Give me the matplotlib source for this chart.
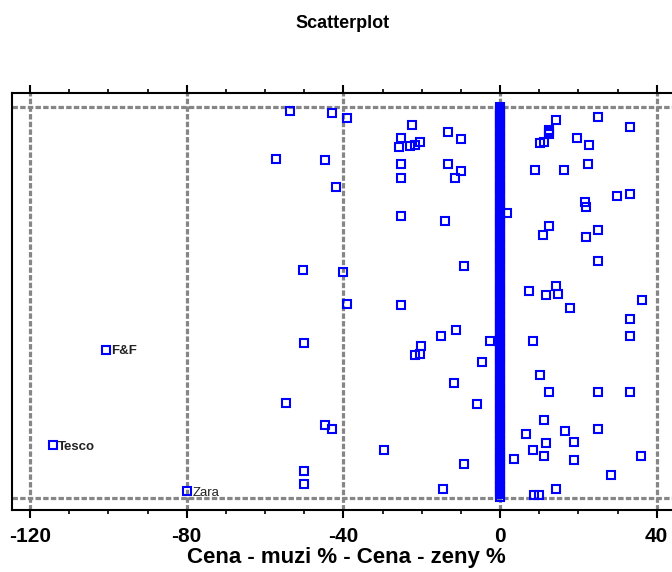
import matplotlib
matplotlib.use('Agg')
import matplotlib.pyplot as plt
from matplotlib.ticker import MultipleLocator

plt.rcParams['font.family'] = ['Liberation Sans', 'DejaVu Sans']
plt.rcParams['axes.unicode_minus'] = False

# rozdil ceny (muzi - zeny) v %, y = poradi polozky
neg_x = [-53.6, -42.8, -39.2, -57.2, -44.6, -41.9, -22.5, -25.2, -25.8, -23.1, -21.6, -20.4,
         -13.2, -10.0, -25.2, -25.2, -13.2, -10.0, -11.4, -25.2, -14.0, -50.4, -40.1, -9.1,
         -39.2, -25.2, -50.1, -15.1, -11.3, -2.5, -20.3, -21.7, -20.5, -4.5, -11.8, -6.0,
         -54.6, -44.6, -42.9, -29.7, -9.1, -50.1, -50.1, -14.6]
neg_y = [98.9, 98.3, 97.0, 86.6, 86.3, 79.4, 95.2, 92.0, 89.8, 89.9, 90.2, 91.0,
         93.4, 91.7, 85.3, 81.8, 85.3, 83.6, 81.7, 72.1, 70.8, 58.3, 57.6, 59.2,
         49.5, 49.2, 39.6, 41.4, 43.0, 40.2, 38.7, 36.6, 36.8, 34.8, 29.3, 24.0,
         24.3, 18.6, 17.6, 12.3, 8.6, 6.8, 3.5, 2.3]

pos_x = [14.4, 25.1, 33.2, 12.5, 12.5, 12.5, 10.2, 11.1, 19.7, 22.7, 8.9, 16.2, 22.4, 1.8,
         21.6, 21.9, 29.9, 33.2, 12.5, 11.0, 21.9, 25.1, 25.1, 7.4, 11.7, 14.4, 14.7, 36.2,
         17.9, 33.2, 33.2, 8.3, 10.1, 12.5, 25.1, 33.2, 11.1, 6.6, 16.5, 25.1, 11.7, 18.8,
         8.3, 11.1, 3.5, 18.8, 35.9, 28.2, 14.4, 8.7, 10.0]
pos_y = [96.5, 97.4, 94.7, 94.0, 93.4, 92.9, 90.8, 91.0, 92.0, 90.1, 83.9, 83.9, 85.3, 72.7,
         75.7, 74.4, 77.2, 77.6, 69.5, 67.3, 66.7, 68.5, 60.5, 52.9, 51.9, 54.1, 52.2, 50.5,
         48.6, 45.6, 41.4, 40.2, 31.5, 27.0, 27.0, 27.0, 19.8, 16.2, 17.1, 17.6, 14.1, 14.3,
         12.3, 10.7, 9.9, 9.6, 10.7, 5.8, 2.3, 0.6, 0.8]

# polozky se stejnou cenou (rozdil 0)
zero_y = [0.3, 0.9, 1.4, 2.0, 2.7, 3.2, 3.8, 4.4, 4.9, 5.6,
          6.1, 6.7, 7.3, 7.8, 8.5, 9.0, 9.6, 10.2, 10.7, 11.4,
          11.9, 12.5, 13.1, 13.6, 14.3, 14.8, 15.4, 16.0, 16.5, 17.2,
          17.7, 18.3, 18.9, 19.4, 20.1, 20.6, 21.2, 21.8, 22.3, 23.0,
          23.5, 24.1, 24.7, 25.2, 25.9, 26.4, 27.0, 27.6, 28.1, 28.8,
          29.3, 29.9, 30.5, 31.0, 31.7, 32.2, 32.8, 33.4, 33.9, 34.6,
          35.1, 35.7, 36.3, 36.8, 37.5, 38.0, 38.6, 39.2, 39.7, 40.4,
          40.9, 41.5, 42.1, 42.6, 43.3, 43.8, 44.4, 45.0, 45.5, 46.2,
          46.7, 47.3, 47.9, 48.4, 49.1, 49.6, 50.2, 50.8, 51.3, 52.0,
          52.5, 53.1, 53.7, 54.2, 54.9, 55.4, 56.0, 56.6, 57.1, 57.8,
          58.3, 58.9, 59.5, 60.0, 60.7, 61.2, 61.8, 62.4, 62.9, 63.6,
          64.1, 64.7, 65.3, 65.8, 66.5, 67.0, 67.6, 68.2, 68.7, 69.4,
          69.9, 70.5, 71.1, 71.6, 72.3, 72.8, 73.4, 74.0, 74.5, 75.2,
          75.7, 76.3, 76.9, 77.4, 78.1, 78.6, 79.2, 79.8, 80.3, 81.0,
          81.5, 82.1, 82.7, 83.2, 83.9, 84.4, 85.0, 85.6, 86.1, 86.8,
          87.3, 87.9, 88.5, 89.0, 89.7, 90.2, 90.8, 91.4, 91.9, 92.6,
          93.1, 93.7, 94.3, 94.8, 95.5, 96.0, 96.6, 97.2, 97.7, 98.4,
          98.9, 99.5, 100.0]
zero_x = [0.0] * len(zero_y)

# popsane obchody
lab_names = ['F&F', 'Tesco', 'Zara']
lab_x = [-100.6, -114.2, -79.9]
lab_y = [37.8, 13.4, 1.7]
lab_weight = ['bold', 'bold', 'normal']

fig = plt.figure(figsize=(6.72, 5.72), dpi=100)
ax = fig.add_axes([0.0179, 0.1084, 0.9821, 0.729])

grid_kw = dict(color='#868686', linewidth=2.3, linestyle=(0, (1.7, 0.7)), zorder=1)
for gx in [-120, -80, -40, 0, 40]:
    ax.axvline(gx, **grid_kw)
for gy in [0, 100]:
    ax.axhline(gy, **grid_kw)

mk = dict(linestyle='none', marker='s', markersize=5.8, markerfacecolor='none',
          markeredgecolor='#0000ff', markeredgewidth=1.5, zorder=3)
ax.plot(zero_x, zero_y, **mk)
ax.plot(neg_x, neg_y, **mk)
ax.plot(pos_x, pos_y, **mk)
ax.plot(lab_x, lab_y, **mk)
for name, x, y, w in zip(lab_names, lab_x, lab_y, lab_weight):
    ax.text(x + 1.4, y - 0.4, name, fontsize=9.5, fontweight=w, color='#222222',
            ha='left', va='center', zorder=4)

ax.set_xlim(-124.6, 43.9)
ax.set_ylim(-3.15, 103.5)

ax.xaxis.set_major_locator(MultipleLocator(40))
ax.xaxis.set_minor_locator(MultipleLocator(10))
ax.tick_params(axis='x', which='major', direction='out', length=6, width=1.5,
               top=True, bottom=True, labelsize=15, pad=6)
ax.tick_params(axis='x', which='minor', direction='out', length=3, width=1.2,
               top=True, bottom=True)
for lab in ax.get_xticklabels():
    lab.set_fontweight('bold')
ax.set_yticks([])

for side in ['left', 'top', 'bottom']:
    ax.spines[side].set_linewidth(1.5)
ax.spines['right'].set_visible(False)

ax.set_xlabel('Cena - muzi % - Cena - zeny %', fontsize=16, fontweight='bold', labelpad=0)
ax.xaxis.set_label_coords(0.506, -0.088)

fig.text(0.51, 1 - 24 / 572, 'Scatterplot', ha='center', va='center',
         fontsize=13, fontweight='bold')

fig.savefig('out.png', dpi=100)
